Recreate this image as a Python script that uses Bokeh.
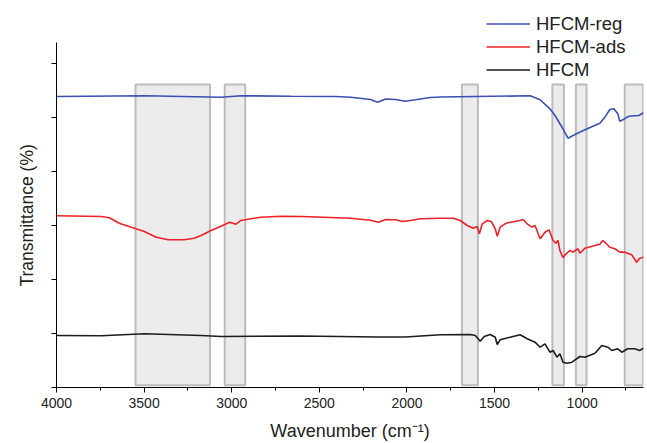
from bokeh.plotting import figure
from bokeh.models import (Range1d, SingleIntervalTicker, FixedTicker, Legend, LegendItem,
                          CustomJSTickFormatter, Title)
from bokeh.embed import file_html
from bokeh.resources import INLINE

# ---- data ----
wn_reg = [4000, 3499, 3061, 2947, 2663, 2407, 2321, 2208, 2168, 2122, 2065, 2009, 1952, 1866,
          1809, 1297, 1240, 1184, 1155, 1115, 1081, 1041, 984, 899, 870, 842, 819, 797, 785,
          768, 734, 677, 650]
t_reg = [5.389, 5.402, 5.376, 5.402, 5.394, 5.389, 5.376, 5.333, 5.283, 5.343, 5.333, 5.302,
         5.328, 5.370, 5.380, 5.402, 5.328, 5.161, 5.037, 4.820, 4.617, 4.685, 4.772, 4.894,
         5.006, 5.148, 5.161, 5.069, 4.931, 4.957, 5.024, 5.037, 5.087]

wn_ads = [4000, 3744, 3698, 3642, 3573, 3499, 3431, 3363, 3272, 3215, 3175, 3118, 3061, 3012,
          2976, 2947, 2890, 2834, 2720, 2606, 2435, 2321, 2208, 2162, 2122, 2065, 2026, 1980,
          1923, 1809, 1735, 1696, 1656, 1622, 1599, 1587, 1570, 1542, 1519, 1496, 1485, 1468,
          1440, 1411, 1354, 1337, 1314, 1286, 1269, 1240, 1212, 1189, 1166, 1149, 1138, 1127,
          1109, 1092, 1070, 1053, 1024, 1013, 984, 927, 899, 882, 870, 842, 814, 785, 757, 717,
          689, 672, 650]
t_ads = [3.180, 3.167, 3.143, 3.043, 2.969, 2.889, 2.783, 2.735, 2.735, 2.765, 2.815, 2.907,
         2.987, 3.061, 3.024, 3.093, 3.124, 3.154, 3.172, 3.167, 3.148, 3.135, 3.098, 3.061,
         3.111, 3.106, 3.074, 3.093, 3.124, 3.135, 3.135, 3.093, 3.000, 2.950, 2.981, 2.846,
         3.031, 3.093, 3.074, 2.939, 2.802, 2.969, 3.031, 3.061, 3.093, 3.111, 3.031, 2.969,
         3.000, 2.754, 2.876, 2.920, 2.722, 2.672, 2.722, 2.537, 2.402, 2.476, 2.537, 2.506,
         2.569, 2.487, 2.580, 2.630, 2.654, 2.722, 2.691, 2.598, 2.569, 2.506, 2.506, 2.457,
         2.320, 2.394, 2.413]

wn_hfcm = [4000, 3744, 3499, 3175, 3061, 2606, 2168, 2009, 1809, 1639, 1610, 1582, 1559, 1525,
           1496, 1485, 1468, 1411, 1354, 1314, 1269, 1240, 1212, 1184, 1166, 1144, 1127, 1109,
           1087, 1058, 1013, 984, 927, 888, 853, 831, 797, 774, 740, 700, 672, 650]
t_hfcm = [0.963, 0.957, 0.994, 0.963, 0.944, 0.954, 0.935, 0.935, 0.976, 0.981, 0.963, 0.857,
          0.944, 0.981, 0.931, 0.796, 0.883, 0.931, 0.976, 0.902, 0.839, 0.746, 0.809, 0.654,
          0.685, 0.561, 0.624, 0.469, 0.450, 0.469, 0.574, 0.561, 0.635, 0.778, 0.746, 0.685,
          0.717, 0.654, 0.717, 0.717, 0.685, 0.728]

# shaded bands (wavenumber left, right)
band_left = [3549, 3040, 1686, 1170, 1036, 757]
band_right = [3124, 2923, 1595, 1104, 975, 652]
band_bottom = 0.04
band_top = 5.61

series_names = ["HFCM-reg", "HFCM-ads", "HFCM"]
series_colors = ["#3a4fb3", "#f01f28", "#1c1c1c"]
y_ticks = [0, 1, 2, 3, 4, 5, 6]

FONT = "Liberation Sans"

p = figure(width=647, height=443, output_backend="svg", toolbar_location=None,
           x_range=Range1d(4000, 650), y_range=Range1d(0, 7.074),
           min_border_left=55, min_border_right=4, min_border_top=5, min_border_bottom=56)
p.outline_line_color = None
p.grid.visible = False
p.background_fill_color = "white"

# bands
bl = [min(a, b) for a, b in zip(band_left, band_right)]
br = [max(a, b) for a, b in zip(band_left, band_right)]
p.quad(left=bl, right=br, bottom=band_bottom, top=band_top,
       fill_color="#ececec", line_color="#bcbcbc", line_width=2)

r_reg = p.line(wn_reg, t_reg, line_color=series_colors[0], line_width=1.6)
r_ads = p.line(wn_ads, t_ads, line_color=series_colors[1], line_width=1.6)
r_hfcm = p.line(wn_hfcm, t_hfcm, line_color=series_colors[2], line_width=1.6)

# x axis
xa = p.xaxis[0]
xa.ticker = SingleIntervalTicker(interval=500, num_minor_ticks=2)
xa.axis_label = "Wavenumber (cm\u207b\u00b9)"
xa.axis_label_text_font = FONT
xa.axis_label_text_font_size = "18px"
xa.axis_label_text_font_style = "normal"
xa.axis_label_text_color = "#222222"
xa.axis_label_standoff = 10
xa.major_label_text_font = FONT
xa.major_label_text_font_size = "14px"
xa.major_label_text_color = "#222222"
xa.major_label_standoff = 5
xa.major_tick_out = 5
xa.major_tick_in = 0
xa.minor_tick_out = 3
xa.minor_tick_in = 0
xa.axis_line_color = "black"
xa.major_tick_line_color = "black"
xa.minor_tick_line_color = "black"

# y axis (ticks without labels, line limited to the data extent)
ya = p.yaxis[0]
ya.ticker = FixedTicker(ticks=y_ticks)
ya.formatter = CustomJSTickFormatter(code="return '';")
ya.bounds = (0, 6.39)
ya.major_label_standoff = 0
ya.axis_label_standoff = 0
ya.major_tick_out = 5
ya.major_tick_in = 0
ya.minor_tick_line_color = None
ya.axis_line_color = "black"
ya.major_tick_line_color = "black"

# y axis title placed along the bounded axis
ytitle = Title(text="Transmittance (%)", align="left", offset=101,
               text_font=FONT, text_font_size="17.5px", text_font_style="normal",
               text_color="#222222", standoff=29)
p.add_layout(ytitle, "left")

legend = Legend(items=[LegendItem(label=series_names[0], renderers=[r_reg]),
                       LegendItem(label=series_names[1], renderers=[r_ads]),
                       LegendItem(label=series_names[2], renderers=[r_hfcm])],
                location=(430, 306))
legend.glyph_width = 44
legend.glyph_height = 23
legend.label_height = 23
legend.label_standoff = 6
legend.spacing = 0
legend.padding = 0
legend.margin = 0
legend.label_text_font = FONT
legend.label_text_font_size = "18.5px"
legend.label_text_color = "#222222"
legend.background_fill_alpha = 0
legend.border_line_alpha = 0
p.add_layout(legend)

open("out.html", "w").write(file_html(p, INLINE))
